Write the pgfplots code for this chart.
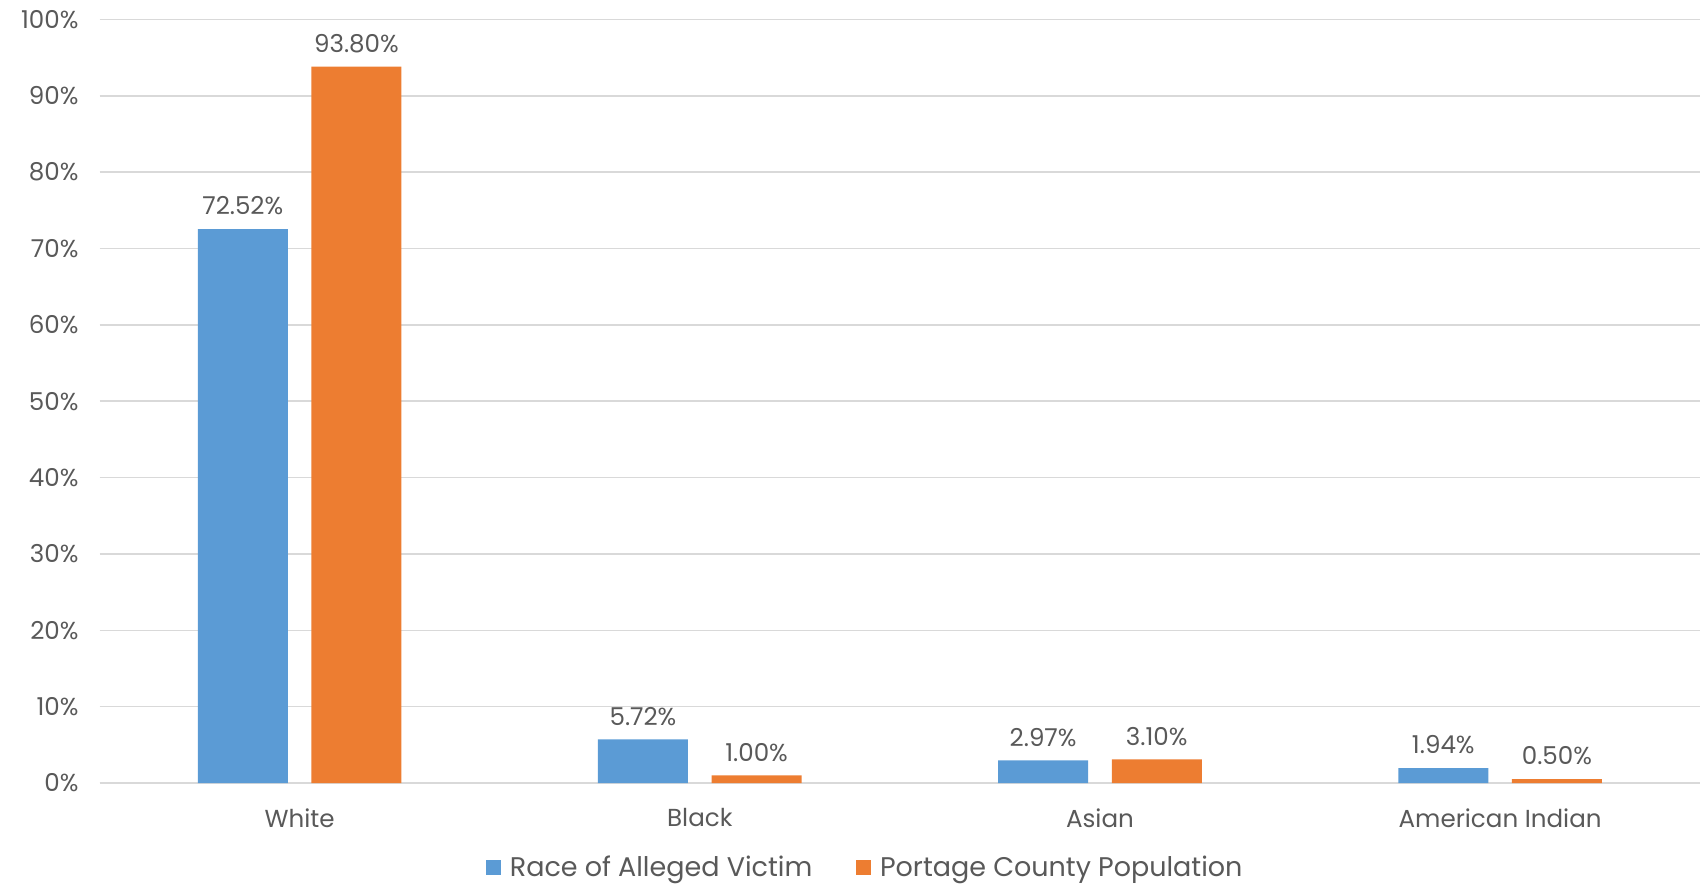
\documentclass[border=0pt]{standalone}
\usepackage{pgfplots}
\pgfplotsset{compat=1.18}
\usepackage{fontspec}
\setmainfont{Poppins}
\definecolor{cblue}{HTML}{5B9BD5}
\definecolor{corange}{HTML}{ED7D31}
\definecolor{txt}{HTML}{595959}
\definecolor{gridc}{HTML}{D9D9D9}
\begin{document}
\begin{tikzpicture}
\begin{axis}[
  scale only axis,
  width=800.7pt, height=382pt,
  xmin=-0.5, xmax=3.5,
  ymin=0, ymax=100,
  xtick={0,1,2,3},
  xticklabels={White,Black,Asian,American Indian},
  ytick={0,10,...,100},
  yticklabel={\pgfmathprintnumber{\tick}\%},
  /pgf/number format/assume math mode=true,
  tick style={draw=none},
  axis line style={draw=none},
  ymajorgrids, xmajorgrids=false, grid style={draw=gridc, line width=0.8pt},
  tick label style={font=\fontsize{12.3}{14}\selectfont, text=txt},
  yticklabel style={xshift=-7pt},
  xticklabel style={yshift=-5pt},
  ybar, bar width=0.225,
  nodes near coords={\pgfmathprintnumber[fixed,fixed zerofill,precision=2]{\pgfplotspointmeta}\%},
  nodes near coords style={font=\fontsize{12.3}{14}\selectfont, text=txt, yshift=3.5pt},
  legend style={draw=none, at={(0.479,-0.111)}, anchor=center, font=\fontsize{13.5}{15}\selectfont, text=txt,
    legend cell align=left, /tikz/every even column/.append style={column sep=20pt}},
  legend columns=2,
  legend image code/.code={\fill[#1] (0cm,-0.13cm) rectangle (0.26cm,0.13cm);},
  clip=false,
]
\draw[gridc, line width=0.8pt] (rel axis cs:0,0) -- (rel axis cs:1,0);
\addplot[fill=cblue, draw=none, bar shift=-0.142] coordinates {(0,72.52) (1,5.72) (2,2.97) (3,1.94)};
\addplot[fill=corange, draw=none, bar shift=0.142] coordinates {(0,93.80) (1,1.00) (2,3.10) (3,0.50)};
\legend{\hspace{2.5pt}Race of Alleged Victim, \hspace{2.5pt}Portage County Population}
\end{axis}
\path[use as bounding box] (-49.8pt,-50.8pt) rectangle (800.7pt,391.7pt);
\end{tikzpicture}
\end{document}
